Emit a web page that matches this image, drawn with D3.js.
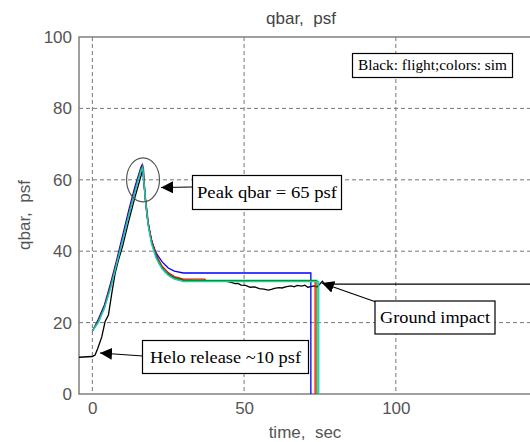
<!DOCTYPE html>
<meta charset="utf-8">
<style>
    body { margin: 0; background: #fff; }
    text { white-space: pre; }
    .note { font-family: "Liberation Serif", "Times New Roman", serif; fill: #000; }
</style>
<body>
<script src="https://cdn.jsdelivr.net/npm/d3@7"></script>
<script>
    // flight data (black)
    var flightT = [-4.4, 0, 0.9, 1.8, 3.1, 4.2, 5.3, 6.4, 7.5, 8.6, 10, 12, 14, 16, 16.8, 17.3, 18, 19, 20, 22, 24, 26, 28, 30, 35, 40, 44, 46, 47, 48, 49, 50.5, 52, 53.5, 55, 56.5, 58, 59, 60, 61.5, 62.5, 64, 65.5, 66.5, 67.5, 69, 70, 71, 72, 73, 74, 75, 75.8, 76.5, 150]
    var flightQ = [10.3, 10.5, 10.9, 12.8, 16, 20.3, 22.1, 28.2, 33.8, 37.5, 41.5, 48.5, 55, 61, 63.6, 56, 50, 45, 41.5, 36.5, 34.2, 33, 32.3, 31.9, 31.7, 31.7, 31.6, 31.2, 30.9, 31, 30.5, 30.4, 29.9, 30, 29.5, 29.4, 29.1, 29.3, 29.6, 29.8, 29.7, 30.1, 30.3, 30, 30.4, 30.2, 30.5, 29.9, 30.1, 30.3, 30, 30.8, 31.6, 30.8, 30.8]

    // sim runs
    var blueT = [0, 2, 4, 6, 8, 10, 12, 14, 16, 16.4, 17.3, 18.3, 19.5, 21, 23, 25, 27, 30, 72, 72]
    var blueQ = [17.6, 21, 25, 31, 37.5, 44.5, 51.5, 58, 63.5, 64.2, 56, 48, 43, 39.5, 37, 35.3, 34.4, 33.9, 33.9, -5]
    var redT = [0, 2, 4, 6, 8, 10, 12, 14, 16, 16.6, 17.5, 18.5, 19.5, 21, 23, 25, 27, 30, 37, 37.5, 73.4, 73.4]
    var redQ = [17.6, 20.6, 24.5, 30.3, 36.8, 43.5, 50.5, 57, 63, 63.8, 55, 47.5, 43, 39, 35.8, 34, 32.9, 32.2, 32.2, 31.7, 31.7, -5]
    var greenT = [0, 2, 4, 6, 8, 10, 12, 14, 16, 16.6, 17.5, 18.5, 19.5, 21, 23, 25, 27, 30, 74, 74]
    var greenQ = [17.6, 20.4, 24.3, 30, 36.5, 43.2, 50.2, 56.8, 62.8, 63.6, 54.5, 47, 42.5, 38.5, 35.3, 33.6, 32.5, 31.8, 31.8, -5]
    var cyanT = [0, 2, 4, 6, 8, 10, 12, 14, 16, 16.6, 17.5, 18.5, 19.5, 21, 23, 25, 27, 30, 74.6, 74.6]
    var cyanQ = [17.6, 20, 24, 29.5, 36.3, 43, 50, 56.5, 62.5, 63.4, 54, 46.5, 42, 38, 35, 33.2, 32.2, 31.5, 31.5, -5]

    var xTicks = [0, 50, 100]
    var yTicks = [0, 20, 40, 60, 80, 100]

    var W = 530, H = 442
    var pL = 79, pT = 37, pB = 394, pR = 541.5

    var x = d3.scaleLinear().domain([-4.4, 148]).range([pL, pR])
    var y = d3.scaleLinear().domain([0, 100]).range([pB, pT])

    var svg = d3.select("body").append("svg")
        .attr("width", W)
        .attr("height", H)
        .style("display", "block")

    var defs = svg.append("defs")
    defs.append("clipPath").attr("id", "plot")
        .append("rect").attr("x", pL).attr("y", pT).attr("width", pR - pL).attr("height", pB - pT)
    defs.append("marker")
        .attr("id", "arr").attr("viewBox", "0 0 10 10").attr("refX", 10).attr("refY", 5)
        .attr("markerWidth", 12).attr("markerHeight", 12).attr("markerUnits", "userSpaceOnUse")
        .attr("orient", "auto")
      .append("path").attr("d", "M0,0L10,5L0,10z").attr("fill", "#000")

    // grid
    var grid = svg.append("g").attr("stroke", "#777").attr("stroke-dasharray", "4,3").attr("stroke-width", 1)
    grid.selectAll("line.gx").data(xTicks).enter().append("line")
        .attr("x1", d => x(d)).attr("x2", d => x(d)).attr("y1", pT).attr("y2", pB)
    grid.selectAll("line.gy").data(yTicks.slice(1, -1)).enter().append("line")
        .attr("x1", pL).attr("x2", pR).attr("y1", d => y(d)).attr("y2", d => y(d))

    // axes
    var sans = '"Liberation Sans", Arial, sans-serif'
    svg.append("g")
        .attr("transform", "translate(0," + pB + ")")
        .call(d3.axisBottom(x).tickValues(xTicks).tickSize(0).tickPadding(8))
    svg.append("g")
        .attr("transform", "translate(" + pL + ",0)")
        .call(d3.axisLeft(y).tickValues(yTicks).tickSize(0).tickPadding(7))
    svg.selectAll(".domain").remove()
    svg.selectAll(".tick text")
        .style("font-family", sans).style("font-size", "17px").attr("fill", "#555")

    svg.append("path")
        .attr("d", "M" + pR + "," + pT + "H" + pL + "V" + pB + "H" + pR)
        .attr("fill", "none").attr("stroke", "#808080").attr("stroke-width", 1.5)

    // lines
    var line = d3.line().x(d => x(d[0])).y(d => y(d[1]))
    var series = [
        [flightT, flightQ, "#000"],
        [blueT, blueQ, "#0000ff"],
        [redT, redQ, "#ff0000"],
        [greenT, greenQ, "#00a000"],
        [cyanT, cyanQ, "#20c8c8"]
    ]
    var lg = svg.append("g").attr("clip-path", "url(#plot)")
    series.forEach(function(s) {
        lg.append("path")
            .datum(d3.zip(s[0], s[1]))
            .attr("d", line)
            .attr("fill", "none")
            .attr("stroke", s[2])
            .attr("stroke-width", 1.3)
    })

    // titles
    svg.append("text").attr("x", 301).attr("y", 24).attr("text-anchor", "middle")
        .style("font-family", sans).style("font-size", "17px").attr("fill", "#444").text("qbar,  psf")
    svg.append("text").attr("x", 305).attr("y", 438).attr("text-anchor", "middle")
        .style("font-family", sans).style("font-size", "17px").attr("fill", "#555").text("time,  sec")
    svg.append("text").attr("transform", "translate(30,215) rotate(-90)").attr("text-anchor", "middle")
        .style("font-family", sans).style("font-size", "17px").attr("fill", "#555").text("qbar,  psf")

    // annotations
    svg.append("ellipse").attr("cx", x(16.7)).attr("cy", y(60)).attr("rx", 16.5).attr("ry", 22)
        .attr("fill", "none").attr("stroke", "#555").attr("stroke-width", 1.2)

    function note(x0, y0, w, h, txt, fs, tl) {
        svg.append("rect").attr("x", x0).attr("y", y0).attr("width", w).attr("height", h)
            .attr("fill", "#fff").attr("stroke", "#000").attr("stroke-width", 1.2)
        svg.append("text").attr("class", "note").attr("x", x0 + w / 2).attr("y", y0 + h / 2 + fs * 0.33)
            .attr("text-anchor", "middle").style("font-size", fs + "px")
            .attr("textLength", tl).attr("lengthAdjust", "spacingAndGlyphs").text(txt)
    }
    function arrow(x1, y1, x2, y2) {
        svg.append("line").attr("x1", x1).attr("y1", y1).attr("x2", x2).attr("y2", y2)
            .attr("stroke", "#000").attr("stroke-width", 1.2).attr("marker-end", "url(#arr)")
    }

    arrow(193, 187, 161, 187.5)
    note(192.5, 175.5, 149, 34, "Peak qbar = 65 psf", 17.5, 140)
    arrow(143, 356, 100, 353)
    note(142.5, 340.5, 166, 33, "Helo release ~10 psf", 17.5, 151)
    arrow(376, 302, 322, 283)
    note(375, 301, 120, 33, "Ground impact", 17.5, 110)
    note(352.5, 53.5, 160, 24, "Black: flight;colors: sim", 14.5, 149)
</script>
</body>
